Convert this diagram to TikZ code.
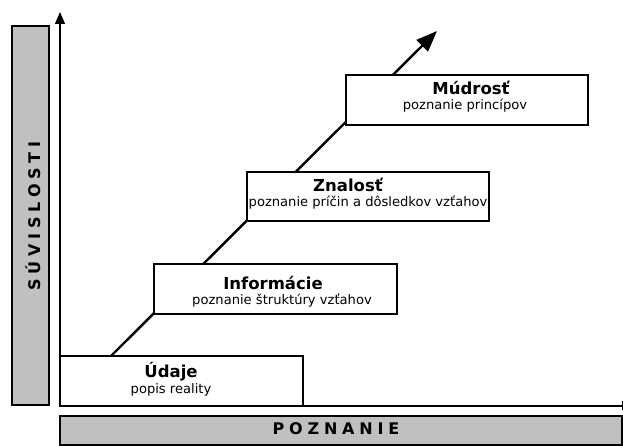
\documentclass[tikz,border=0pt]{standalone}
\usepackage{fontspec}
\setmainfont{DejaVu Sans}
\newfontfamily\axisfont[LetterSpace=30]{DejaVu Sans}
\usetikzlibrary{arrows.meta}
\definecolor{panelgray}{HTML}{C0C0C0}
\begin{document}
\begin{tikzpicture}[x=1pt,y=-1pt,
  panel/.style={draw=black,line width=1.2pt,fill=panelgray,inner sep=0pt,outer sep=0pt,anchor=north west},
  stage/.style={draw=black,line width=1.3pt,fill=white,inner sep=0pt,outer sep=0pt,anchor=north west,minimum height=50pt},
  title/.style={anchor=base,inner sep=0pt,font=\fontsize{16.5}{18}\selectfont\bfseries},
  subtitle/.style={anchor=base,inner sep=0pt,font=\fontsize{13.1}{15}\selectfont},
  axislabel/.style={inner sep=0pt,font=\axisfont\bfseries\fontsize{16}{18}\selectfont},
  axisline/.style={draw=black,line width=1.2pt},
  growth/.style={draw=black,line width=2.4pt,-{Triangle[length=21pt,width=16pt]}}
]
\useasboundingbox (0,0) rectangle (623,446);

% axis panels
\node[panel,minimum width=37pt,minimum height=379pt] (vpanel) at (12,26) {};
\node[panel,minimum width=562pt,minimum height=29pt] (hpanel) at (60,416) {};
\node[axislabel,rotate=90] (vlabel) at (33,216) {SÚVISLOSTI};
\node[axislabel] (hlabel) at (336,429) {POZNANIE};

% axes
\coordinate (origin) at (60,406);
\coordinate (ytop) at (60,12);
\coordinate (xend) at (622,406);
\draw[axisline,-{Triangle[length=12pt,width=10pt]}] (origin) -- (ytop);
\draw[axisline] (origin) -- (xend);
\draw[line width=1pt] ([yshift=-4pt]xend) -- ([yshift=5pt]xend);

% growth arrow behind the stages
\coordinate (gstart) at (111,356);
\coordinate (gend) at (437,31);
\draw[growth] (gstart) -- (gend);

% stages
\node[stage,minimum width=243pt] (udaje) at (60,356) {};
\node[stage,minimum width=243pt] (info) at (154,264) {};
\node[stage,minimum width=242pt,minimum height=49pt] (znalost) at (247,172) {};
\node[stage,minimum width=242pt] (mudrost) at (346,75) {};

\node[title] (udajeT) at (171,377) {Údaje};
\node[subtitle] (udajeS) at (171,393) {popis reality};
\node[title] (infoT) at (273,289) {Informácie};
\node[subtitle] (infoS) at (282,304) {poznanie štruktúry vzťahov};
\node[title] (znalostT) at (348,192) {Znalosť};
\node[subtitle] (znalostS) at (368,207) {poznanie príčin a dôsledkov vzťahov};
\node[title] (mudrostT) at (471,95) {Múdrosť};
\node[subtitle] (mudrostS) at (465,110) {poznanie princípov};
\end{tikzpicture}
\end{document}
